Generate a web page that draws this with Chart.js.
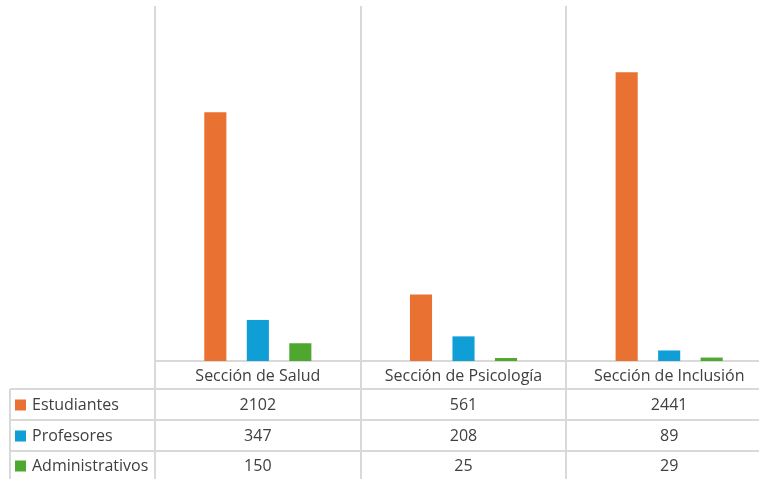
<!DOCTYPE html>
<html>
<head>
<meta charset="utf-8">
<script src="https://cdn.jsdelivr.net/npm/chart.js@4.4.1/dist/chart.umd.min.js"></script>
<style>
  html, body { margin: 0; padding: 0; background: #fff; overflow: hidden; }
  #wrap { width: 780px; height: 479px; }
</style>
</head>
<body>
<div id="wrap"><canvas id="grafico" width="780" height="479"></canvas></div>
<script>
// datos del gráfico
const categorias = ["Sección de Salud", "Sección de Psicología", "Sección de Inclusión"];
const estudiantes = [2102, 561, 2441];
const profesores = [347, 208, 89];
const administrativos = [150, 25, 29];
const series = ["Estudiantes", "Profesores", "Administrativos"];
const colores = ["#E97132", "#0F9ED5", "#4EA72E"];

const FUENTE = "'Open Sans', sans-serif";
const GRIS = "#d9d9d9";
const TEXTO = "#404040";

// tabla de datos bajo el gráfico (estilo Excel)
const tablaDatos = {
  id: "tablaDatos",
  afterDraw(chart) {
    const ctx = chart.ctx;
    const x = chart.scales.x;
    const ancho = chart.width;
    const filas = [389, 420, 451];
    ctx.save();
    ctx.strokeStyle = GRIS;
    ctx.lineWidth = 2;
    filas.forEach(y => {
      ctx.beginPath();
      ctx.moveTo(10, y);
      ctx.lineTo(ancho, y);
      ctx.stroke();
    });
    ctx.beginPath();
    ctx.moveTo(10, 389);
    ctx.lineTo(10, chart.height);
    ctx.stroke();

    ctx.fillStyle = TEXTO;
    ctx.font = "16px " + FUENTE;
    ctx.textAlign = "center";
    ctx.textBaseline = "middle";
    categorias.forEach((c, i) => {
      ctx.fillText(c, x.getPixelForValue(i), 376);
    });

    const valores = [estudiantes, profesores, administrativos];
    const centros = [405, 436, 466];
    valores.forEach((serie, s) => {
      ctx.fillStyle = colores[s];
      ctx.fillRect(15, centros[s] - 5.5, 11, 11);
      ctx.fillStyle = TEXTO;
      ctx.textAlign = "left";
      ctx.fillText(series[s], 32, centros[s]);
      ctx.textAlign = "center";
      serie.forEach((v, i) => {
        ctx.fillText(String(v), x.getPixelForValue(i), centros[s]);
      });
    });
    ctx.restore();
  }
};

new Chart(document.getElementById("grafico").getContext("2d"), {
  type: "bar",
  data: {
    labels: categorias,
    datasets: [
      { label: series[0], data: estudiantes, backgroundColor: colores[0] },
      { label: series[1], data: profesores, backgroundColor: colores[1] },
      { label: series[2], data: administrativos, backgroundColor: colores[2] }
    ]
  },
  options: {
    responsive: false,
    animation: false,
    layout: { padding: { left: 155, right: 8, top: 6, bottom: 0 } },
    datasets: { bar: { categoryPercentage: 0.62, barPercentage: 0.52 } },
    plugins: { legend: { display: false }, tooltip: { enabled: false } },
    scales: {
      x: {
        ticks: { display: false },
        grid: { color: GRIS, lineWidth: 2, tickLength: 118, offset: true },
        border: { color: GRIS, width: 2 }
      },
      y: {
        display: false,
        min: 0,
        max: 3000
      }
    }
  },
  plugins: [tablaDatos]
});
</script>
</body>
</html>
